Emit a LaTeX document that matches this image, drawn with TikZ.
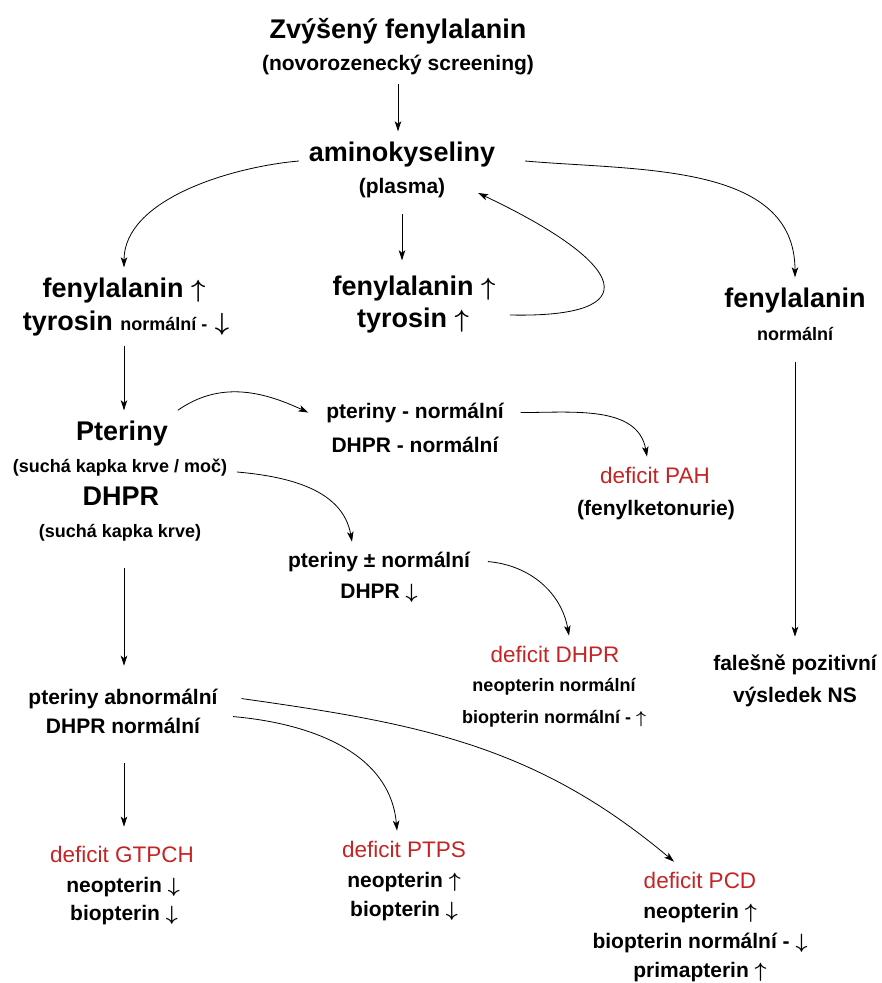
\documentclass[tikz,border=0pt]{standalone}
\usepackage{fontspec}
\setmainfont{Liberation Sans}
\usetikzlibrary{arrows.meta, calc}
\definecolor{defred}{RGB}{196,36,36}
\newcommand{\malypis}{\fontsize{18}{22}\selectfont}
\newcommand{\nahoru}{{\boldmath$\uparrow$}}
\newcommand{\dolu}{{\boldmath$\downarrow$}}

\begin{document}
\begin{tikzpicture}[x=1pt, y=1pt,
    radek/.style={anchor=base, inner sep=0pt, outer sep=10pt},
    velky/.style={radek, font=\bfseries\fontsize{27}{32}\selectfont, text height=19.7pt, text depth=5.7pt},
    stredni/.style={radek, font=\bfseries\fontsize{21}{25}\selectfont, text height=15.3pt, text depth=4.4pt},
    maly/.style={radek, font=\bfseries\malypis, text height=13.1pt, text depth=3.8pt},
    cerveny/.style={radek, text=defred, font=\fontsize{22.5}{27}\selectfont, text height=16.4pt, text depth=4.7pt},
    sipka/.style={line width=0.8pt, -{Stealth[length=10pt, width=6.5pt, inset=2.5pt]}}]
    \useasboundingbox (0,0) rectangle (882,-983);

    % Screening
    \node[velky] (nadpis) at (398,-38) {Zvýšený fenylalanin};
    \node[stredni] (screening) at (398,-70) {(novorozenecký screening)};
    \node[velky] (amino) at (402,-161) {aminokyseliny};
    \node[stredni] (plazma) at (402,-193) {(plasma)};

    % Tri vetve
    \node[velky] (fenL) at (124,-297) {fenylalanin \nahoru};
    \node[velky] (tyrL) at (126,-330) {tyrosin {\malypis normální -} \dolu};
    \node[velky] (fenM) at (414,-295) {fenylalanin \nahoru};
    \node[velky] (tyrM) at (413,-327) {tyrosin \nahoru};
    \node[velky] (fenR) at (795,-307) {fenylalanin};
    \node[maly] (normR) at (795,-340) {normální};

    % Pteriny a DHPR
    \node[velky] (pter) at (122,-440) {Pteriny};
    \node[maly] (pterVz) at (120,-472) {(suchá kapka krve / moč)};
    \node[velky] (dhpr) at (121,-505) {DHPR};
    \node[maly] (dhprVz) at (120,-537) {(suchá kapka krve)};

    \node[stredni] (ptN1) at (415,-418) {pteriny - normální};
    \node[stredni] (ptN2) at (415,-452) {DHPR - normální};
    \node[cerveny] (pah) at (655,-483) {deficit PAH};
    \node[stredni] (pahVz) at (656,-515) {(fenylketonurie)};

    \node[stredni] (ptPM1) at (379,-567) {pteriny ± normální};
    \node[stredni] (ptPM2) at (379,-598) {DHPR \dolu};
    \node[cerveny] (defDHPR) at (555,-662) {deficit DHPR};
    \node[maly] (defDHPR2) at (554,-691) {neopterin normální};
    \node[maly] (defDHPR3) at (554,-723) {biopterin normální - \nahoru};

    \node[stredni] (fals1) at (795,-670) {falešně pozitivní};
    \node[stredni] (fals2) at (795,-702) {výsledek NS};

    \node[stredni] (ptAb1) at (123,-704) {pteriny abnormální};
    \node[stredni] (ptAb2) at (123,-733) {DHPR normální};

    % Deficity
    \node[cerveny] (gtpch) at (122,-862) {deficit GTPCH};
    \node[stredni] (gtpch2) at (123,-892) {neopterin \dolu};
    \node[stredni] (gtpch3) at (124,-920) {biopterin \dolu};
    \node[cerveny] (ptps) at (404,-857) {deficit PTPS};
    \node[stredni] (ptps2) at (404,-887) {neopterin \nahoru};
    \node[stredni] (ptps3) at (404,-916) {biopterin \dolu};
    \node[cerveny] (pcd) at (700,-888) {deficit PCD};
    \node[stredni] (pcd2) at (700,-918) {neopterin \nahoru};
    \node[stredni] (pcd3) at (700,-948) {biopterin normální - \dolu};
    \node[stredni] (pcd4) at (700,-977) {primapterin \nahoru};

    % Sipky
    \draw[sipka] (screening.south) -- (screening.south |- amino.north);
    \draw[sipka, shorten <=7pt, shorten >=5pt] (plazma.south) -- (plazma.south |- fenM.north);
    \draw[sipka] (amino.base west) to[out=185, in=90, looseness=0.85] (fenL.north);
    \draw[sipka] ([xshift=20pt]amino.base east) to[out=-5, in=90] (fenR.north);
    \draw[sipka] ([shift={(31pt,5pt)}]tyrM.east) .. controls +(138,-3) and +(152,-72) .. ([xshift=23pt]plazma.base east);
    \draw[sipka, shorten <=8pt, shorten >=8pt] (normR.south) -- (normR.south |- fals1.north);

    \draw[sipka] (fenL.south |- tyrL.south) -- (fenL.south |- pter.north);
    \draw[sipka] (pter.north east) to[out=35, in=155] ([xshift=-8pt]ptN1.west);
    \draw[sipka] ([xshift=7pt]ptN1.east) to[out=0, in=100] ([xshift=-8pt]pah.north);
    \draw[sipka] (pterVz.base east) to[out=-5, in=100] ([xshift=-27pt]ptPM1.north);
    \draw[sipka] ([xshift=8pt]ptPM1.east) to[out=-5, in=100] ([xshift=14pt]defDHPR.north);

    \draw[sipka, shorten <=17pt, shorten >=13pt] (dhprVz.south -| fenL.south) -- (fenL.south |- ptAb1.north);
    \draw[sipka, shorten <=16pt, shorten >=9pt] (fenL.south |- ptAb2.south) -- (fenL.south |- gtpch.north);
    \draw[sipka] ([shift={(23pt,11pt)}]ptAb2.east) to[out=-5, in=95] ([xshift=-7pt]ptps.north);
    \draw[sipka] ([xshift=14pt]ptAb1.east) to[out=-8, in=140] ([xshift=-26pt]pcd.north);
\end{tikzpicture}
\end{document}
